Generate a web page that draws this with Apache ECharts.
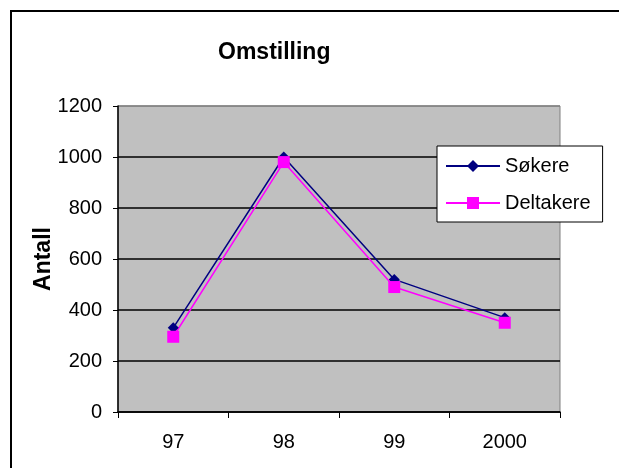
<!DOCTYPE html>
<html>
<head>
<meta charset="utf-8">
<script src="https://cdn.jsdelivr.net/npm/echarts@6/dist/echarts.min.js"></script>
<style>
  html, body { margin: 0; padding: 0; background: #fff; }
  #chart { width: 619px; height: 468px; }
</style>
</head>
<body>
<div id="chart"></div>
<script>
// values
var years = ['97', '98', '99', '2000'];
var sokere = [330, 1000, 520, 370];
var deltakere = [295, 980, 490, 350];

var font = "Arial, 'Liberation Sans', sans-serif";
var chart = echarts.init(document.getElementById('chart'));

chart.setOption({
  animation: false,
  backgroundColor: '#fff',
  title: {
    text: 'Omstilling',
    left: 213,
    top: 36,
    textStyle: { fontFamily: font, fontSize: 23, fontWeight: 'bold', color: '#000' }
  },
  legend: {
    orient: 'vertical',
    left: 437,
    top: 146,
    padding: [9, 12, 8, 8],
    itemGap: 15,
    itemWidth: 54,
    itemHeight: 15,
    backgroundColor: '#fff',
    borderColor: '#000',
    borderWidth: 1,
    textStyle: { fontFamily: font, fontSize: 20, color: '#000', lineHeight: 22 },
    data: ['Søkere', 'Deltakere']
  },
  graphic: [{
    type: 'rect',
    shape: { x: 11, y: 11, width: 700, height: 600 },
    style: { fill: null, stroke: '#000', lineWidth: 2 },
    silent: true
  }],
  grid: {
    left: 118,
    right: 59,
    top: 106,
    bottom: 56,
    show: true,
    backgroundColor: '#c0c0c0',
    borderColor: '#808080',
    borderWidth: 1
  },
  xAxis: {
    type: 'category',
    data: years,
    boundaryGap: true,
    axisLine: { lineStyle: { color: '#000', width: 1.5 } },
    axisTick: { show: true, length: 6, lineStyle: { color: '#000' } },
    axisLabel: { fontFamily: font, fontSize: 20, color: '#000', margin: 20 }
  },
  yAxis: {
    type: 'value',
    min: 0,
    max: 1200,
    interval: 200,
    name: 'Antall',
    nameLocation: 'middle',
    nameGap: 63,
    nameMoveOverlap: false,
    nameTextStyle: { fontFamily: font, fontSize: 23, fontWeight: 'bold', color: '#000' },
    axisLine: { show: true, lineStyle: { color: '#000', width: 1.5 } },
    axisTick: { show: true, length: 5, lineStyle: { color: '#000' } },
    axisLabel: {
      fontFamily: font, fontSize: 20, color: '#000', margin: 16,
      formatter: function (v) { return String(v); }
    },
    splitLine: {
      lineStyle: {
        color: ['#000', '#000', '#000', '#000', '#000', '#000', '#808080'],
        width: 1.5
      }
    }
  },
  series: [{
    name: 'Søkere',
    type: 'line',
    data: sokere,
    symbol: 'diamond',
    symbolSize: 11,
    itemStyle: { color: '#000080' },
    lineStyle: { color: '#000080', width: 1.5 }
  }, {
    name: 'Deltakere',
    type: 'line',
    data: deltakere,
    symbol: 'rect',
    symbolSize: 12,
    itemStyle: { color: '#ff00ff' },
    lineStyle: { color: '#ff00ff', width: 1.5 }
  }]
});
</script>
</body>
</html>
